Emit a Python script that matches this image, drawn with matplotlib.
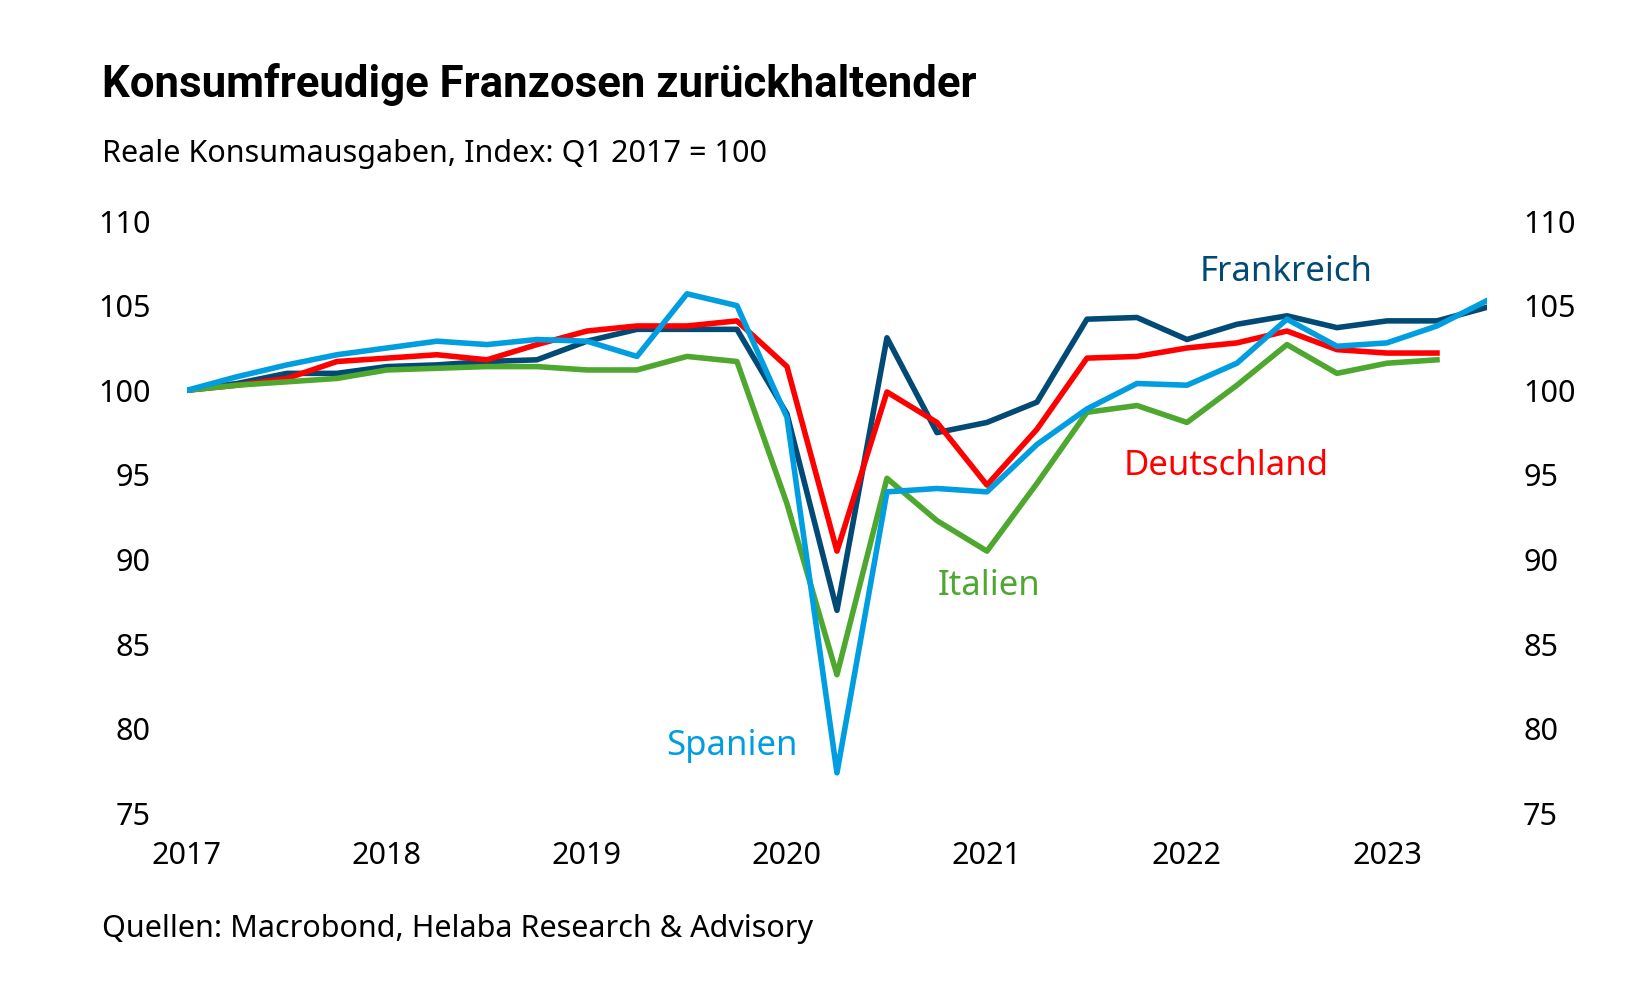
import numpy as np
import matplotlib.pyplot as plt

plt.rcParams['font.family'] = ['Noto Sans', 'DejaVu Sans']

# quarterly index, Q1 2017 = 100
start_year = 2017
frankreich = [100.0, 100.4, 101.0, 101.0, 101.4, 101.5, 101.7, 101.8, 102.9, 103.6, 103.6, 103.6, 98.6, 87.0,
              103.1, 97.5, 98.1, 99.3, 104.2, 104.3, 103.0, 103.9, 104.4, 103.7, 104.1, 104.1, 104.9]
deutschland = [100.0, 100.3, 100.7, 101.7, 101.9, 102.1, 101.8, 102.7, 103.5, 103.8, 103.8, 104.1, 101.4, 90.5,
               99.9, 98.1, 94.4, 97.7, 101.9, 102.0, 102.5, 102.8, 103.5, 102.4, 102.2, 102.2]
italien = [100.0, 100.3, 100.5, 100.7, 101.2, 101.3, 101.4, 101.4, 101.2, 101.2, 102.0, 101.7, 93.3, 83.2,
           94.8, 92.3, 90.5, 94.5, 98.7, 99.1, 98.1, 100.3, 102.7, 101.0, 101.6, 101.8]
spanien = [100.0, 100.8, 101.5, 102.1, 102.5, 102.9, 102.7, 103.0, 102.9, 102.0, 105.7, 105.0, 98.4, 77.4,
           94.0, 94.2, 94.0, 96.8, 98.9, 100.4, 100.3, 101.6, 104.2, 102.6, 102.8, 103.8, 105.3]

year_ticks = [2017, 2018, 2019, 2020, 2021, 2022, 2023]
y_ticks = [75, 80, 85, 90, 95, 100, 105, 110]

c_fr = '#004A75'
c_de = '#FF0000'
c_it = '#4EA72E'
c_es = '#009EE0'


def quarters(vals):
    return start_year + 0.25 * np.arange(len(vals))


fig = plt.figure(figsize=(16.5, 10), dpi=100)
ax = fig.add_axes([0.1133, 0.1865, 0.7879, 0.5925])

lw = 4.0
ax.plot(quarters(frankreich), frankreich, color=c_fr, lw=lw)
ax.plot(quarters(deutschland), deutschland, color=c_de, lw=lw)
ax.plot(quarters(italien), italien, color=c_it, lw=lw)
ax.plot(quarters(spanien), spanien, color=c_es, lw=lw)

ax.set_xlim(2017, 2023.5)
ax.set_ylim(75, 110)
ax.set_xticks(year_ticks)
ax.set_xticklabels([str(y) for y in year_ticks])
ax.set_yticks(y_ticks)
ax.tick_params(axis='x', length=0, pad=20, labelsize=22)
ax.tick_params(axis='y', length=0, pad=26, labelsize=22, right=True, labelright=True)
for s in ax.spines.values():
    s.set_visible(False)

# series labels
ax.text(2022.495, 107.0, 'Frankreich', color=c_fr, fontsize=25, ha='center', va='center')
ax.text(2022.195, 95.5, 'Deutschland', color=c_de, fontsize=25, ha='center', va='center')
ax.text(2021.01, 88.45, 'Italien', color=c_it, fontsize=25, ha='center', va='center')
ax.text(2019.725, 79.0, 'Spanien', color=c_es, fontsize=25, ha='center', va='center')

fig.text(0.062, 0.903, 'Konsumfreudige Franzosen zurückhaltender', fontsize=31.5, fontweight='bold',
         family=['Roboto', 'DejaVu Sans'], va='baseline')
fig.text(0.062, 0.838, 'Reale Konsumausgaben, Index: Q1 2017 = 100', fontsize=22, va='baseline')
fig.text(0.062, 0.063, 'Quellen: Macrobond, Helaba Research & Advisory', fontsize=22, va='baseline')

fig.savefig('out.png', dpi=100, facecolor='white')
